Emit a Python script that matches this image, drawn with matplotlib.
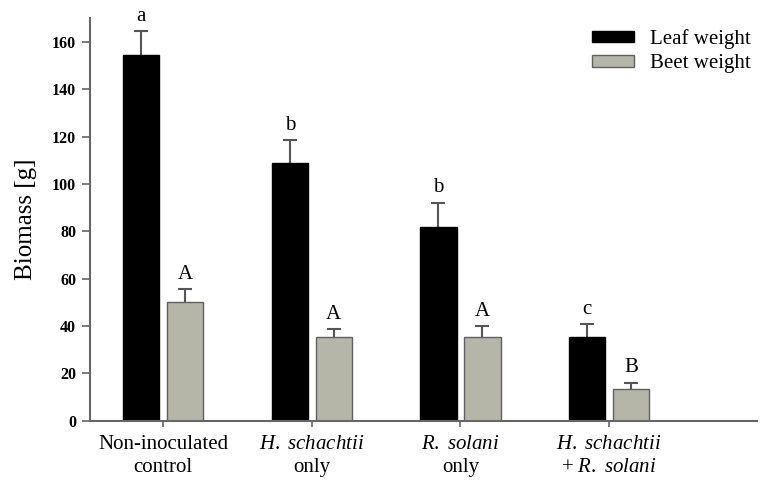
import matplotlib.pyplot as plt
import numpy as np

plt.rcParams['font.family'] = ['Liberation Serif', 'DejaVu Serif']
plt.rcParams['mathtext.fontset'] = 'custom'
plt.rcParams['mathtext.rm'] = 'Liberation Serif'
plt.rcParams['mathtext.it'] = 'Liberation Serif:italic'

groups = ["Non-inoculated\ncontrol", "$\\it{H.\\ schachtii}$\nonly",
          "$\\it{R.\\ solani}$\nonly", "$\\it{H.\\ schachtii}$\n+ $\\it{R.\\ solani}$"]
leaf = [154.7, 108.9, 81.9, 35.2]
leaf_err = [9.9, 9.6, 10.3, 5.6]
beet = [50.2, 35.3, 35.2, 13.4]
beet_err = [5.3, 3.4, 4.8, 2.6]
leaf_letters = ["a", "b", "b", "c"]
beet_letters = ["A", "A", "A", "B"]

fig = plt.figure(figsize=(7.64, 4.82), dpi=100)
ax = fig.add_axes([0.1178, 0.127, 0.8726, 0.835])

x = np.arange(len(groups))
w = 0.245
off = 0.148
ekw = dict(fmt="none", ecolor="#555555", elinewidth=1.5, capsize=5,
           capthick=1.5, zorder=1)

ax.bar(x - off, leaf, w, color="black", edgecolor="black", label="Leaf weight",
       zorder=2)
ax.errorbar(x - off, leaf, yerr=leaf_err, **ekw)
ax.bar(x + off, beet, w, color="#b5b5a8", edgecolor="#606060", linewidth=1.0,
       label="Beet weight", zorder=2)
ax.errorbar(x + off, beet, yerr=beet_err, **ekw)

for i in range(4):
    ax.annotate(leaf_letters[i], (x[i] - off, leaf[i] + leaf_err[i]),
                xytext=(0, 4), textcoords="offset points", ha="center",
                va="bottom", fontsize=15)
    ax.annotate(beet_letters[i], (x[i] + off, beet[i] + beet_err[i]),
                xytext=(0, 4), textcoords="offset points", ha="center",
                va="bottom", fontsize=15)

ax.set_xlim(-0.493, 3.994)
ax.set_ylim(0, 170)
ax.set_yticks(range(0, 161, 20))
ax.tick_params(axis="y", labelsize=11.5, direction="out", length=6, width=1.2,
               color="#666666", pad=4)
ax.set_xticks(x)
ax.set_xticklabels(groups, fontsize=15, linespacing=1.3)
ax.tick_params(axis="x", direction="out", length=4, width=1.2, color="#666666",
               pad=6)
for lab in ax.get_yticklabels():
    lab.set_fontweight("bold")
ax.set_ylabel("Biomass [g]", fontsize=18, labelpad=11)

for s in ["top", "right"]:
    ax.spines[s].set_visible(False)
for s in ["left", "bottom"]:
    ax.spines[s].set_color("#666666")
    ax.spines[s].set_linewidth(1.5)

ax.legend(loc="upper right", frameon=False, fontsize=15, handlelength=2.0,
          handleheight=0.5, labelspacing=0.25, handletextpad=0.8,
          bbox_to_anchor=(1.02, 1.02))

fig.savefig("out.png", dpi=100)
